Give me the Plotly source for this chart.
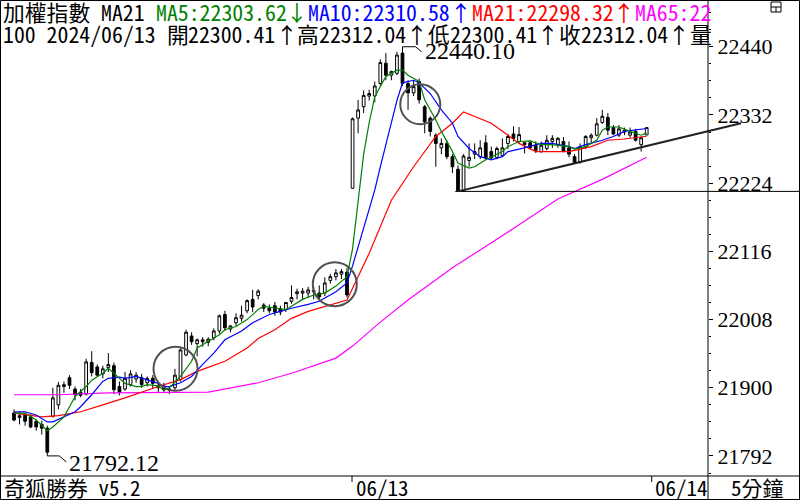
import plotly.graph_objects as go

# ---------------- data ----------------
OPEN = [21860, 21853, 21857, 21854, 21847, 21842, 21836, 21855, 21873, 21902,
        21916, 21898, 21893, 21890, 21940, 21933, 21922, 21932, 21935, 21902,
        21898, 21905, 21914, 21916, 21908, 21915, 21900, 21903, 21896, 21900,
        21913, 21952, 21982, 21970, 21976, 21972, 21979, 21990, 22016, 21993,
        22003, 22010, 22022, 22040, 22046, 22031, 22026, 22030, 22025, 22024,
        22037, 22049, 22050, 22050, 22052, 22050, 22050, 22070, 22076, 22080,
        22083, 22216, 22327, 22345, 22362, 22362, 22382, 22414, 22395, 22398,
        22430, 22382, 22367, 22385, 22345, 22327, 22300, 22280, 22287, 22266,
        22246, 22212, 22260, 22270, 22266, 22288, 22274, 22265, 22268, 22287,
        22302, 22290, 22288, 22288, 22284, 22274, 22279, 22290, 22284, 22290,
        22280, 22266, 22257, 22281, 22296, 22300, 22320, 22328, 22312, 22300,
        22305, 22300, 22306, 22285, 22300.41]
HIGH = [21866, 21862, 21860, 21858, 21850, 21848, 21840, 21900, 21909, 21910,
        21920, 21902, 21898, 21946, 21958, 21937, 21935, 21955, 21940, 21910,
        21925, 21928, 21925, 21922, 21918, 21920, 21908, 21908, 21900, 21930,
        21962, 21992, 21988, 21978, 21980, 21980, 21994, 22016, 22022, 21999,
        22018, 22030, 22040, 22055, 22056, 22034, 22032, 22036, 22030, 22036,
        22062, 22057, 22058, 22060, 22060, 22062, 22075, 22080, 22088, 22088,
        22090, 22328, 22356, 22371, 22372, 22385, 22420, 22430, 22402, 22432,
        22440.10, 22387, 22387, 22390, 22348, 22330, 22303, 22295, 22292, 22270,
        22252, 22270, 22287, 22287, 22292, 22300, 22282, 22282, 22295, 22302,
        22314, 22313, 22290, 22292, 22290, 22290, 22300, 22300, 22297, 22297,
        22290, 22270, 22287, 22300, 22303, 22327, 22340, 22335, 22316, 22316,
        22312, 22312, 22310, 22298, 22312.04]
LOW = [21847, 21842, 21840, 21836, 21832, 21826, 21792.12, 21853, 21866, 21892,
       21898, 21880, 21885, 21888, 21918, 21918, 21915, 21925, 21890, 21888,
       21895, 21902, 21908, 21900, 21902, 21898, 21892, 21892, 21890, 21895,
       21910, 21950, 21968, 21950, 21965, 21966, 21975, 21986, 21990, 21988,
       21998, 22005, 22018, 22020, 22040, 22020, 22018, 22014, 22015, 22020,
       22033, 22040, 22040, 22042, 22040, 22040, 22045, 22065, 22070, 22072,
       22043, 22215, 22303, 22335, 22355, 22352, 22378, 22387, 22387, 22395,
       22378, 22340, 22362, 22350, 22303, 22298, 22250, 22270, 22262, 22240,
       22211, 22211, 22250, 22262, 22262, 22262, 22262, 22262, 22266, 22278,
       22290, 22286, 22271, 22277, 22272, 22272, 22276, 22280, 22280, 22274,
       22265, 22256, 22255, 22278, 22288, 22298, 22318, 22300, 22300, 22297,
       22300, 22296, 22290, 22274, 22300.41]
CLOSE = [21849, 21856, 21847, 21838, 21838, 21836, 21798, 21884, 21904, 21905,
         21904, 21889, 21888, 21941, 21924, 21920, 21930, 21937, 21897, 21893,
         21915, 21922, 21920, 21905, 21915, 21907, 21904, 21897, 21898, 21920,
         21960, 21988, 21973, 21976, 21973, 21977, 21990, 22014, 21995, 21998,
         22011, 22015, 22038, 22028, 22053, 22026, 22022, 22020, 22020, 22035,
         22043, 22052, 22053, 22055, 22054, 22044, 22066, 22076, 22082, 22084,
         22047, 22326, 22340, 22363, 22366, 22378, 22415, 22395, 22401, 22427,
         22382, 22367, 22377, 22356, 22321, 22306, 22287, 22287, 22266, 22250,
         22212, 22267, 22265, 22274, 22280, 22264, 22264, 22279, 22280, 22298,
         22295, 22301, 22285, 22280, 22276, 22284, 22292, 22295, 22295, 22274,
         22270, 22257, 22282, 22298, 22300, 22318, 22330, 22308, 22302, 22310,
         22308, 22305, 22292, 22296, 22312.04]
BARS = list(range(len(OPEN)))

MA5_I = [0, 2, 4, 5, 6, 7, 9, 10, 11, 13, 14, 16, 17, 18, 20, 22, 23, 24, 26, 27,
         28, 30, 32, 33, 35, 37, 38, 40, 42, 44, 45, 47, 49, 50, 52, 54, 56, 58,
         60, 61, 62, 63, 64, 65, 67, 69, 70, 71, 73, 74, 76, 77, 79, 80, 82, 83,
         85, 88, 89, 91, 93, 95, 97, 100, 101, 103, 105, 106, 107, 109, 111, 113, 114]
MA5_V = [21860, 21860, 21849, 21841, 21832, 21838, 21854, 21870, 21886, 21902,
         21912, 21923, 21931, 21923, 21907, 21902, 21902, 21905, 21903, 21896,
         21900, 21918, 21942, 21963, 21974, 21984, 21992, 21997, 22008, 22024,
         22029, 22026, 22024, 22029, 22040, 22047, 22050, 22061, 22076, 22120,
         22200, 22270, 22320, 22361, 22393, 22403, 22403, 22395, 22385, 22356,
         22324, 22306, 22274, 22256, 22248, 22250, 22261, 22274, 22282, 22290,
         22291, 22285, 22285, 22282, 22278, 22282, 22292, 22308, 22313, 22313,
         22306, 22300, 22303.62]

MA10_I = [0, 2, 4, 6, 7, 9, 11, 12, 14, 16, 17, 19, 20, 22, 24, 26, 27, 28, 30, 32,
          34, 36, 38, 41, 43, 46, 48, 50, 53, 55, 58, 60, 61, 62, 63, 64, 65, 66,
          67, 68, 69, 70, 72, 73, 75, 77, 79, 80, 82, 84, 86, 88, 89, 91, 95, 97,
          100, 101, 103, 106, 108, 110, 114]
MA10_V = [21862, 21862, 21857, 21846, 21846, 21854, 21862, 21870, 21889, 21910,
          21915, 21917, 21915, 21918, 21912, 21907, 21902, 21902, 21908, 21918,
          21937, 21955, 21976, 21990, 22003, 22016, 22021, 22026, 22032, 22037,
          22052, 22066, 22093, 22124, 22153, 22184, 22213, 22250, 22285, 22320,
          22355, 22383, 22387, 22383, 22366, 22340, 22319, 22298, 22279, 22266,
          22261, 22266, 22274, 22278, 22287, 22287, 22282, 22279, 22285, 22292,
          22298, 22306, 22310.58]

MA21_I = [0, 5, 8, 12, 16, 20, 26, 30, 33, 38, 42, 44, 47, 50, 53, 58, 60, 64, 68,
          72, 76, 79, 81, 86, 89, 91, 94, 100, 104, 107, 110, 114]
MA21_V = [21860, 21854, 21856, 21862, 21873, 21884, 21902, 21913, 21926, 21942,
          21963, 21978, 21992, 22010, 22021, 22034, 22039, 22113, 22197, 22250,
          22298, 22319, 22337, 22319, 22300, 22287, 22274, 22274, 22282, 22292,
          22294, 22298.32]

MA65_I = [0, 8, 17, 26, 35, 44, 50, 58, 61, 66, 71, 79, 86, 91, 98, 106, 114]
MA65_V = [21889, 21889, 21892, 21892, 21893, 21908, 21923, 21947, 21966, 22004,
          22039, 22090, 22129, 22158, 22199, 22230, 22265]

Y_TICKS = [21792, 21900, 22008, 22116, 22224, 22332, 22440]
Y_MINOR = [21792 + 27 * k for k in range(-1, 28)]

HIGH_LABEL = "22440.10"
LOW_LABEL = "21792.12"
HIGH_BAR, LOW_BAR = 70, 6
SUPPORT_BAR = 80
SUPPORT_LOW = LOW[SUPPORT_BAR]
TREND_END_BAR, TREND_END_VAL = 131, 22319
CIRCLE_I = [29.1, 57.8, 73.2]
CIRCLE_V = [21930, 22064, 22349]
CIRCLE_R = [22, 22, 20]
DAY_START_BARS = [61, 115]
DAY_LABELS = ["06/13", "06/14"]

HEADER_ROW1 = [("加權指數", 0, "black"), ("MA21", 9, "black"),
               ("MA5:22303.62", 14, "#008000"), ("↓", 26, "#008000"),
               ("MA10:22310.58", 28, "#0000ff"), ("↑", 41, "#0000ff"),
               ("MA21:22298.32", 43, "#ff0000"), ("↑", 56, "#ff0000"),
               ("MA65:22", 58, "#ff00ff")]
HEADER_ROW2 = [("100 2024/06/13", 0), ("開", 15), ("22300.41", 17), ("↑", 25), ("高", 27),
               ("22312.04", 29), ("↑", 37), ("低", 39), ("22300.41", 41), ("↑", 49),
               ("收", 51), ("22312.04", 53), ("↑", 61), ("量", 63)]

# ---------------- geometry ----------------
W, H = 800, 500
PX_PER_BAR = 5.55
X0_PX = 14.0
XMIN = -X0_PX / PX_PER_BAR
XMAX = (W - X0_PX) / PX_PER_BAR
PLOT_BOTTOM_PX = 475
YMIN, YMAX = 21761.9, 22514.1
AXIS_X_PX = 708


def px(xp):
    return xp / W


def py(yp):
    return 1 - yp / H


fig = go.Figure()

fig.add_trace(go.Candlestick(
    x=BARS, open=OPEN, high=HIGH, low=LOW, close=CLOSE,
    increasing=dict(line=dict(color="black", width=1), fillcolor="white"),
    decreasing=dict(line=dict(color="black", width=1), fillcolor="black"),
    whiskerwidth=0, showlegend=False, hoverinfo="skip"))

for xs, ys, col in [(MA65_I, MA65_V, "#ff00ff"), (MA21_I, MA21_V, "#ff0000"),
                    (MA10_I, MA10_V, "#0000ff"), (MA5_I, MA5_V, "#008000")]:
    fig.add_trace(go.Scatter(x=xs, y=ys, mode="lines", line=dict(color=col, width=1.2),
                             showlegend=False, hoverinfo="skip"))

shapes = []
shapes.append(dict(type="line", xref="x", yref="y", x0=SUPPORT_BAR - 0.5, x1=XMAX,
                   y0=SUPPORT_LOW, y1=SUPPORT_LOW, line=dict(color="black", width=1)))
shapes.append(dict(type="line", xref="x", yref="y", x0=SUPPORT_BAR, x1=TREND_END_BAR,
                   y0=SUPPORT_LOW, y1=TREND_END_VAL, line=dict(color="#222222", width=2)))
for ci, cv, cr in zip(CIRCLE_I, CIRCLE_V, CIRCLE_R):
    shapes.append(dict(type="circle", xref="x", yref="y", xsizemode="pixel", ysizemode="pixel",
                       xanchor=ci, yanchor=cv, x0=-cr, x1=cr, y0=-cr, y1=cr,
                       line=dict(color="#505050", width=2)))
shapes.append(dict(type="path", xref="x", yref="y", xsizemode="pixel", ysizemode="pixel",
                   xanchor=HIGH_BAR, yanchor=HIGH[HIGH_BAR], path="M0,0 L13,0 L19,-5",
                   line=dict(color="black", width=1)))
shapes.append(dict(type="path", xref="x", yref="y", xsizemode="pixel", ysizemode="pixel",
                   xanchor=LOW_BAR, yanchor=LOW[LOW_BAR], path="M0,0 L12,0 L19,-6",
                   line=dict(color="black", width=1)))
shapes.append(dict(type="rect", xref="paper", yref="paper", x0=px(0.5), x1=px(799.5),
                   y0=py(499.5), y1=py(0.5), line=dict(color="black", width=1)))
shapes.append(dict(type="line", xref="paper", yref="paper", x0=px(AXIS_X_PX), x1=px(AXIS_X_PX),
                   y0=py(0), y1=py(500), line=dict(color="black", width=1)))
shapes.append(dict(type="line", xref="paper", yref="paper", x0=0, x1=1,
                   y0=py(PLOT_BOTTOM_PX + 1), y1=py(PLOT_BOTTOM_PX + 1),
                   line=dict(color="black", width=1)))
for b in DAY_START_BARS:
    shapes.append(dict(type="line", xref="x", yref="paper", x0=b - 0.1, x1=b - 0.1,
                       y0=py(476), y1=py(482), line=dict(color="black", width=1)))
shapes.append(dict(type="rect", xref="paper", yref="paper", x0=px(771), x1=px(781),
                   y0=py(12), y1=py(2), line=dict(color="black", width=1)))
shapes.append(dict(type="line", xref="paper", yref="paper", x0=px(771), x1=px(781),
                   y0=py(7), y1=py(7), line=dict(color="black", width=1)))
shapes.append(dict(type="line", xref="paper", yref="paper", x0=px(776), x1=px(776),
                   y0=py(7), y1=py(12), line=dict(color="black", width=1)))

MONO = "Noto Sans Mono CJK TC, Noto Sans CJK TC, DejaVu Sans Mono, monospace"
SERIF = "Liberation Serif, DejaVu Serif, serif"
HC = 10.9  # half-cell width of header text

annotations = []


def txt(text, xp, yp, color="black", size=21.8, family=MONO):
    annotations.append(dict(text=text, x=px(xp), y=py(yp), xref="paper", yref="paper",
                            xanchor="left", yanchor="middle", showarrow=False,
                            font=dict(family=family, size=size, color=color)))


for t, c, col in HEADER_ROW1:
    txt(t, 1 + c * HC, 11, col)
for t, c in HEADER_ROW2:
    txt(t, 1 + c * HC, 33)

annotations.append(dict(text=HIGH_LABEL, x=HIGH_BAR, y=HIGH[HIGH_BAR], xref="x", yref="y",
                        xanchor="left", yanchor="middle", xshift=20, yshift=-4, showarrow=False,
                        font=dict(family=SERIF, size=24, color="black")))
annotations.append(dict(text=LOW_LABEL, x=LOW_BAR, y=LOW[LOW_BAR], xref="x", yref="y",
                        xanchor="left", yanchor="middle", xshift=20, yshift=-7, showarrow=False,
                        font=dict(family=SERIF, size=24, color="black")))

txt("奇狐勝券 v5.2", 2, 487, size=21)
for b, lab in zip(DAY_START_BARS, DAY_LABELS):
    annotations.append(dict(text=lab, x=b, y=py(487), xref="x", yref="paper", xanchor="left",
                            yanchor="middle", xshift=1, showarrow=False,
                            font=dict(family=MONO, size=21, color="black")))
txt("5分鐘", 729, 487, size=21)

fig.update_layout(
    width=W, height=H, margin=dict(l=0, r=0, t=0, b=0),
    paper_bgcolor="white", plot_bgcolor="white",
    shapes=shapes, annotations=annotations, showlegend=False,
    xaxis=dict(domain=[0, 1], range=[XMIN, XMAX], visible=False, showgrid=False,
               rangeslider=dict(visible=False), fixedrange=True),
    yaxis=dict(domain=[1 - PLOT_BOTTOM_PX / H, 1], range=[YMIN, YMAX], side="right",
               anchor="free", position=AXIS_X_PX / W, showgrid=False, zeroline=False,
               showline=False, ticks="outside", ticklen=4, tickcolor="black",
               tickmode="array", tickvals=Y_TICKS, ticktext=[str(v) for v in Y_TICKS],
               tickfont=dict(family=SERIF, size=22, color="black"),
               minor=dict(tickmode="array", tickvals=Y_MINOR, ticks="outside", ticklen=2,
                          tickcolor="black")),
)

fig.write_html("out.html")
